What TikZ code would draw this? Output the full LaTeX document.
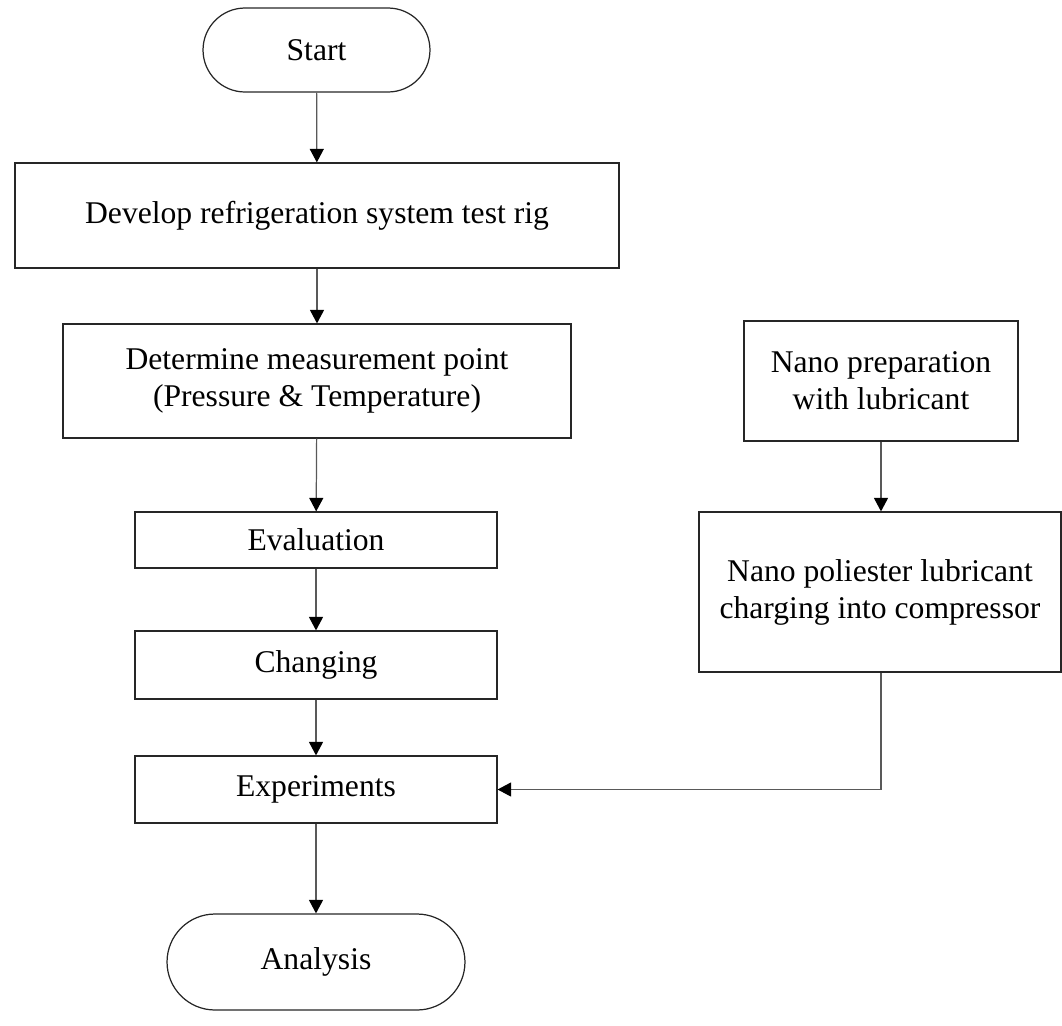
\documentclass[tikz,border=0pt]{standalone}
\usepackage{fontspec}
\setmainfont{Liberation Serif}
\usepackage{tikz}
\usetikzlibrary{arrows.meta}
\usetikzlibrary{positioning}

\begin{document}
\begin{tikzpicture}[
    x=0.02cm, y=-0.02cm,
    every node/.style={draw=black!85, line width=0.7pt, align=center, inner sep=0pt,
      font=\fontsize{18}{21}\selectfont},
    stepbox/.style={rectangle},
    terminal/.style={rectangle, rounded corners=#1},
    flow/.style={draw=black!65, line width=0.7pt, -{Triangle[length=0.27cm, width=0.28cm, black]}},
  ]

  \useasboundingbox (0,0) rectangle (1062,1025);

  \node[terminal=0.84cm, minimum width=4.54cm, minimum height=1.68cm] (start) at (316.5, 50) {Start};
  \node[stepbox, minimum width=12.08cm, minimum height=2.1cm]  (rig)   at (317, 215.5) {Develop refrigeration system test rig};
  \node[stepbox, minimum width=10.16cm, minimum height=2.28cm] (point) at (317, 381) {Determine measurement point\\(Pressure \& Temperature)};
  \node[stepbox, minimum width=7.24cm, minimum height=1.12cm]  (eval)  at (316, 540) {Evaluation};
  \node[stepbox, minimum width=7.24cm, minimum height=1.36cm]  (chg)   at (316, 665) {Changing};
  \node[stepbox, minimum width=7.24cm, minimum height=1.34cm]  (exper) at (316, 789.5) {Experiments};
  \node[terminal=0.96cm, minimum width=5.96cm, minimum height=1.92cm] (analysis) at (316, 962) {Analysis};

  \node[stepbox, minimum width=5.48cm, minimum height=2.4cm]   (prep)   at (881, 381) {Nano preparation\\with lubricant};
  \node[stepbox, minimum width=7.24cm, minimum height=3.2cm]   (charge) at (880, 592) {Nano poliester lubricant\\charging into compressor};

  \draw[flow] (start) -- (rig);
  \draw[flow] (rig) -- (point);
  \draw[flow] (point) -- (eval);
  \draw[flow] (eval) -- (chg);
  \draw[flow] (chg) -- (exper);
  \draw[flow] (exper) -- (analysis);
  \draw[flow] (prep) -- (prep |- charge.north);
  \draw[flow] (prep |- charge.south) |- (exper);

\end{tikzpicture}
\end{document}
